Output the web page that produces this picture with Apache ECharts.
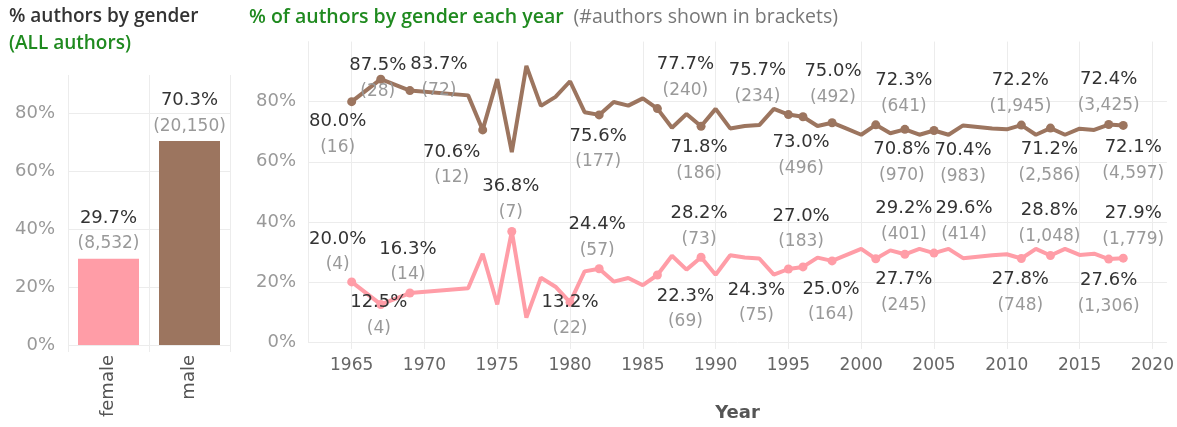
<!DOCTYPE html>
<html>
<head>
<meta charset="utf-8">
<script src="https://cdn.jsdelivr.net/npm/echarts@6/dist/echarts.min.js"></script>
<style>
  html, body { margin: 0; padding: 0; background: #fff; }
  #chart { width: 1177px; height: 427px; }
</style>
</head>
<body>
<div id="chart"></div>
<script>
// share of all authors
const genders = ['female', 'male'];
const genderPct = [29.7, 70.3];
const genderCount = [8532, 20150];

// share per year (no data for 1966, 1968, 1970-1972)
const years = [1965, 1967, 1969, 1973, 1974, 1975, 1976, 1977, 1978, 1979,
  1980, 1981, 1982, 1983, 1984, 1985, 1986, 1987, 1988, 1989,
  1990, 1991, 1992, 1993, 1994, 1995, 1996, 1997, 1998, 1999,
  2000, 2001, 2002, 2003, 2004, 2005, 2006, 2007, 2008, 2009,
  2010, 2011, 2012, 2013, 2014, 2015, 2016, 2017, 2018];
const malePct = [80.0, 87.5, 83.7, 82.1, 70.6, 87.5, 63.2, 91.9, 78.6, 81.6,
  86.8, 76.5, 75.6, 79.9, 78.7, 81.1, 77.7, 71.3, 75.9, 71.8,
  77.6, 71.1, 71.9, 72.2, 77.6, 75.7, 75.0, 71.9, 73.0, 71.0,
  69.0, 72.3, 69.5, 70.8, 69.0, 70.4, 69.0, 72.1, 71.6, 71.1,
  70.8, 72.2, 69.0, 71.2, 69.0, 71.0, 70.6, 72.4, 72.1];
const femalePct = [20.0, 12.5, 16.3, 17.9, 29.4, 12.5, 36.8, 8.1, 21.4, 18.4,
  13.2, 23.5, 24.4, 20.1, 21.3, 18.9, 22.3, 28.7, 24.1, 28.2,
  22.4, 28.9, 28.1, 27.8, 22.4, 24.3, 25.0, 28.1, 27.0, 29.0,
  31.0, 27.7, 30.5, 29.2, 31.0, 29.6, 31.0, 27.9, 28.4, 28.9,
  29.2, 27.8, 31.0, 28.8, 31.0, 29.0, 29.4, 27.6, 27.9];

// labelled points and their author counts
const maleLabelYears = [1965, 1967, 1969, 1974, 1982, 1986, 1989, 1995, 1996, 1998, 2001, 2003, 2005, 2011, 2013, 2017, 2018];
const maleCounts = [16, 28, 72, 12, 177, 240, 186, 234, 492, 496, 641, 970, 983, 1945, 2586, 3425, 4597];
const femaleLabelYears = [1965, 1967, 1969, 1976, 1980, 1982, 1986, 1989, 1995, 1996, 1998, 2001, 2003, 2005, 2011, 2013, 2017, 2018];
const femaleCounts = [4, 4, 14, 7, 22, 57, 69, 73, 75, 164, 183, 245, 401, 414, 748, 1048, 1306, 1779];

const yearTicks = [1965, 1970, 1975, 1980, 1985, 1990, 1995, 2000, 2005, 2010, 2015, 2020];
const pctTicks = [0, 20, 40, 60, 80];

// label placement (px offset of the label block from its point)
const maleOffsets = {
  1965: [-14, 33], 1967: [-3, -1], 1969: [29, -13], 1974: [-31, 35], 1982: [-1, 34],
  1986: [28, -31], 1989: [-2, 34], 1995: [-31, -31], 1996: [30, -32], 1998: [-31, 33],
  2001: [28, -31], 2003: [-3, 33], 2005: [29, 33], 2011: [-1, -32], 2013: [-1, 34],
  2017: [0, -32], 2018: [10, 35]
};
const femaleOffsets = {
  1965: [-14, -30], 1967: [-2, 11], 1969: [-2, -31], 1976: [-1, -32], 1980: [0, 13],
  1982: [-2, -31], 1986: [28, 34], 1989: [-2, -31], 1995: [-32, 34], 1996: [28, 35],
  1998: [-31, -32], 2001: [28, 34], 2003: [-1, -33], 2005: [30, -32], 2011: [-1, 34],
  2013: [-1, -32], 2017: [0, 34], 2018: [10, -32]
};

const PINK = '#ff9da7';
const BROWN = '#9c755f';
const FONT = 'DejaVu Sans';
const TFONT = 'Open Sans';
const GRID = '#ececec';

const labelRich = {
  p: { fontFamily: FONT, fontSize: 18, color: '#333', lineHeight: 26 },
  c: { fontFamily: FONT, fontSize: 17, color: '#999', lineHeight: 26 }
};

function fmt(pct, count) {
  return '{p|' + pct.toFixed(1) + '%}\n{c|(' + count.toLocaleString('en-US') + ')}';
}

function buildLine(values, labelYears, counts, offsets) {
  return years.map((y, i) => {
    const k = labelYears.indexOf(y);
    if (k < 0) {
      return { value: [y, values[i]], symbolSize: 0 };
    }
    return {
      value: [y, values[i]],
      symbolSize: 9,
      label: {
        show: true,
        offset: offsets[y],
        formatter: fmt(values[i], counts[k])
      }
    };
  });
}

const chart = echarts.init(document.getElementById('chart'));

chart.setOption({
  animation: false,
  title: [
    {
      text: '% authors by gender',
      left: 9, top: 7, padding: 0,
      textStyle: { fontFamily: TFONT, fontSize: 19, fontWeight: 600, color: '#333' }
    },
    {
      text: '(ALL authors)',
      left: 9, top: 34, padding: 0,
      textStyle: { fontFamily: TFONT, fontSize: 19, fontWeight: 600, color: '#1f8a1f' }
    },
    {
      text: '{g|% of authors by gender each year}  {n|(#authors shown in brackets)}',
      left: 249, top: 7, padding: 0,
      textStyle: {
        rich: {
          g: { fontFamily: TFONT, fontSize: 19.5, fontWeight: 600, color: '#1f8a1f' },
          n: { fontFamily: TFONT, fontSize: 19.5, fontWeight: 'normal', color: '#777' }
        }
      }
    }
  ],
  grid: [
    { left: 68, top: 75, width: 162, height: 270 },
    { left: 308, top: 41.6, width: 863, height: 308.4 }
  ],
  xAxis: [
    {
      type: 'category',
      gridIndex: 0,
      data: genders,
      axisLine: { show: false },
      axisTick: { show: true, length: 7, lineStyle: { color: GRID } },
      splitLine: { show: true, lineStyle: { color: GRID } },
      axisLabel: { rotate: 90, margin: 10, fontFamily: FONT, fontSize: 18, color: '#555' }
    },
    {
      type: 'value',
      gridIndex: 1,
      min: 1962,
      max: 2021,
      name: 'Year',
      nameLocation: 'middle',
      nameGap: 62,
      nameTextStyle: { fontFamily: FONT, fontSize: 18, fontWeight: 600, color: '#555' },
      axisLine: { show: false },
      axisTick: { show: true, length: 7, customValues: yearTicks, lineStyle: { color: GRID } },
      splitLine: { show: true, lineStyle: { color: GRID } },
      axisLabel: {
        customValues: yearTicks,
        margin: 15,
        fontFamily: FONT, fontSize: 17, color: '#666',
        formatter: (v) => String(v)
      }
    }
  ],
  yAxis: [
    {
      type: 'value',
      gridIndex: 0,
      min: 0,
      max: 93.1,
      axisLine: { show: false },
      axisTick: { show: false, customValues: pctTicks },
      splitLine: { show: true, lineStyle: { color: GRID } },
      axisLabel: {
        customValues: pctTicks,
        margin: 13,
        fontFamily: FONT, fontSize: 18, color: '#999',
        formatter: (v) => v + '%'
      }
    },
    {
      type: 'value',
      gridIndex: 1,
      min: 0,
      max: 100,
      axisLine: { show: true, lineStyle: { color: GRID } },
      axisTick: { show: false, customValues: pctTicks },
      splitLine: { show: true, lineStyle: { color: GRID } },
      axisLabel: {
        customValues: pctTicks,
        margin: 12,
        fontFamily: FONT, fontSize: 18, color: '#999',
        formatter: (v) => v + '%'
      }
    }
  ],
  series: [
    {
      type: 'bar',
      xAxisIndex: 0,
      yAxisIndex: 0,
      barWidth: 61,
      data: genderPct.map((v, i) => ({
        value: v,
        itemStyle: { color: i === 0 ? PINK : BROWN }
      })),
      label: {
        show: true,
        position: 'top',
        distance: 2,
        rich: labelRich,
        formatter: (p) => fmt(genderPct[p.dataIndex], genderCount[p.dataIndex])
      }
    },
    {
      type: 'line',
      name: 'male',
      xAxisIndex: 1,
      yAxisIndex: 1,
      symbol: 'circle',
      showAllSymbol: true,
      lineStyle: { width: 4, color: BROWN },
      itemStyle: { color: BROWN },
      label: { position: 'inside', align: 'center', verticalAlign: 'middle', rich: labelRich },
      data: buildLine(malePct, maleLabelYears, maleCounts, maleOffsets)
    },
    {
      type: 'line',
      name: 'female',
      xAxisIndex: 1,
      yAxisIndex: 1,
      symbol: 'circle',
      showAllSymbol: true,
      lineStyle: { width: 4, color: PINK },
      itemStyle: { color: PINK },
      label: { position: 'inside', align: 'center', verticalAlign: 'middle', rich: labelRich },
      data: buildLine(femalePct, femaleLabelYears, femaleCounts, femaleOffsets)
    }
  ]
});
</script>
</body>
</html>
